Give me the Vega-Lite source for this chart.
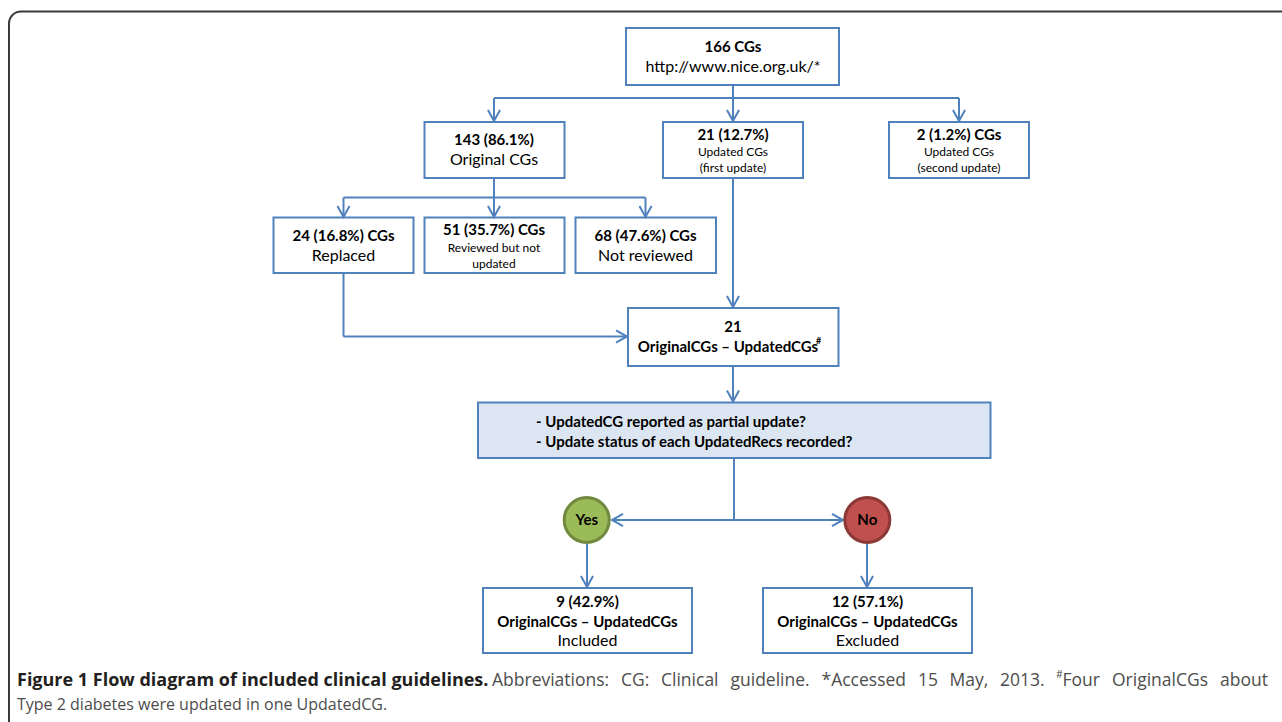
{
  "$schema": "https://vega.github.io/schema/vega-lite/v6.json",
  "width": 1282,
  "height": 722,
  "padding": 0,
  "autosize": {"type": "fit", "contains": "padding"},
  "background": "white",
  "config": {"view": {"stroke": null}},
  "datasets": {
    "frame": [{"x": 9, "x2": 1300, "y": 11.5, "y2": 760}],
    "boxes": [
      {"id": "A", "x": 626, "x2": 839, "y": 28, "y2": 85, "fill": "white"},
      {"id": "B", "x": 424.5, "x2": 564.5, "y": 122, "y2": 178, "fill": "white"},
      {"id": "C", "x": 663, "x2": 803, "y": 122, "y2": 178, "fill": "white"},
      {"id": "D", "x": 889, "x2": 1029, "y": 122, "y2": 178, "fill": "white"},
      {"id": "E", "x": 273.5, "x2": 413.5, "y": 217.5, "y2": 273, "fill": "white"},
      {"id": "F", "x": 424.5, "x2": 564.5, "y": 217.5, "y2": 273, "fill": "white"},
      {"id": "G", "x": 575.5, "x2": 716, "y": 217.5, "y2": 273, "fill": "white"},
      {"id": "H", "x": 628, "x2": 838.5, "y": 308, "y2": 366, "fill": "white"},
      {"id": "I", "x": 478, "x2": 990.5, "y": 402.5, "y2": 458, "fill": "#dce6f2"},
      {"id": "J", "x": 483, "x2": 692, "y": 588, "y2": 653, "fill": "white"},
      {"id": "K", "x": 763, "x2": 972, "y": 588, "y2": 653, "fill": "white"}
    ],
    "segs": [
      {"x": 733, "y": 85, "x2": 733, "y2": 98},
      {"x": 494, "y": 98, "x2": 959, "y2": 98},
      {"x": 494, "y": 98, "x2": 494, "y2": 121},
      {"x": 733, "y": 98, "x2": 733, "y2": 121},
      {"x": 959, "y": 98, "x2": 959, "y2": 121},
      {"x": 494, "y": 178, "x2": 494, "y2": 197.5},
      {"x": 343.5, "y": 197.5, "x2": 645.5, "y2": 197.5},
      {"x": 343.5, "y": 197.5, "x2": 343.5, "y2": 217},
      {"x": 494, "y": 197.5, "x2": 494, "y2": 217},
      {"x": 645.5, "y": 197.5, "x2": 645.5, "y2": 217},
      {"x": 733, "y": 178, "x2": 733, "y2": 307},
      {"x": 343.5, "y": 273, "x2": 343.5, "y2": 336.5},
      {"x": 343.5, "y": 336.5, "x2": 627, "y2": 336.5},
      {"x": 733, "y": 366, "x2": 733, "y2": 401.5},
      {"x": 734, "y": 458, "x2": 734, "y2": 520},
      {"x": 612, "y": 520, "x2": 843, "y2": 520},
      {"x": 587, "y": 544, "x2": 587, "y2": 587},
      {"x": 867, "y": 544, "x2": 867, "y2": 587}
    ],
    "arrows": [
      {"x": 494, "y": 121, "ang": 0},
      {"x": 733, "y": 121, "ang": 0},
      {"x": 959, "y": 121, "ang": 0},
      {"x": 343.5, "y": 217, "ang": 0},
      {"x": 494, "y": 217, "ang": 0},
      {"x": 645.5, "y": 217, "ang": 0},
      {"x": 733, "y": 307, "ang": 0},
      {"x": 627, "y": 336.5, "ang": 270},
      {"x": 733, "y": 401.5, "ang": 0},
      {"x": 612, "y": 520, "ang": 90},
      {"x": 843, "y": 520, "ang": 270},
      {"x": 587, "y": 587, "ang": 0},
      {"x": 867, "y": 587, "ang": 0}
    ],
    "circles": [
      {"x": 586.7, "y": 520, "label": "Yes", "fill": "#9bbb59", "stroke": "#71893f"},
      {"x": 867.3, "y": 520, "label": "No", "fill": "#c0504d", "stroke": "#8c3836"}
    ],
    "texts": [
      {"x": 733, "y": 47, "t": "166 CGs", "w": "b", "s": 15},
      {"x": 733, "y": 67, "t": "http://www.nice.org.uk/*", "w": "n", "s": 16},
      {"x": 494, "y": 140, "t": "143 (86.1%)", "w": "b", "s": 15},
      {"x": 494, "y": 160, "t": "Original CGs", "w": "n", "s": 16},
      {"x": 733, "y": 134.5, "t": "21 (12.7%)", "w": "b", "s": 15},
      {"x": 733, "y": 152, "t": "Updated CGs", "w": "n", "s": 12},
      {"x": 733, "y": 168, "t": "(first update)", "w": "n", "s": 12},
      {"x": 959, "y": 134.5, "t": "2 (1.2%) CGs", "w": "b", "s": 15},
      {"x": 959, "y": 152, "t": "Updated CGs", "w": "n", "s": 12},
      {"x": 959, "y": 168, "t": "(second update)", "w": "n", "s": 12},
      {"x": 343.5, "y": 236, "t": "24 (16.8%) CGs", "w": "b", "s": 15},
      {"x": 343.5, "y": 255.5, "t": "Replaced", "w": "n", "s": 16},
      {"x": 494, "y": 230, "t": "51 (35.7%) CGs", "w": "b", "s": 15},
      {"x": 494, "y": 247.5, "t": "Reviewed but not", "w": "n", "s": 12},
      {"x": 494, "y": 263.5, "t": "updated", "w": "n", "s": 12},
      {"x": 645.5, "y": 236, "t": "68 (47.6%) CGs", "w": "b", "s": 15},
      {"x": 645.5, "y": 255.5, "t": "Not reviewed", "w": "n", "s": 16},
      {"x": 733, "y": 327, "t": "21", "w": "b", "s": 15},
      {"x": 728, "y": 347, "t": "OriginalCGs – UpdatedCGs", "w": "b", "s": 15},
      {"x": 587.5, "y": 602, "t": "9 (42.9%)", "w": "b", "s": 15},
      {"x": 587.5, "y": 621.5, "t": "OriginalCGs – UpdatedCGs", "w": "b", "s": 15},
      {"x": 587.5, "y": 641, "t": "Included", "w": "n", "s": 16},
      {"x": 867.5, "y": 602, "t": "12 (57.1%)", "w": "b", "s": 15},
      {"x": 867.5, "y": 621.5, "t": "OriginalCGs – UpdatedCGs", "w": "b", "s": 15},
      {"x": 867.5, "y": 641, "t": "Excluded", "w": "n", "s": 16}
    ],
    "lefttexts": [
      {"x": 816, "y": 341, "t": "#", "w": "b", "s": 9, "c": "#000000", "f": "box"},
      {"x": 536, "y": 421.5, "t": "- UpdatedCG reported as partial update?", "w": "b", "s": 15, "c": "#000000", "f": "box"},
      {"x": 536, "y": 441.5, "t": "- Update status of each UpdatedRecs recorded?", "w": "b", "s": 15, "c": "#000000", "f": "box"},
      {"x": 17, "y": 681, "t": "Figure 1 Flow diagram of included clinical guidelines.", "w": "b", "s": 18, "c": "#231f20", "f": "cap"},
      {"x": 492, "y": 681, "t": "Abbreviations:", "w": "n", "s": 17.5, "c": "#4d4d4d", "f": "cap"},
      {"x": 621, "y": 681, "t": "CG:", "w": "n", "s": 17.5, "c": "#4d4d4d", "f": "cap"},
      {"x": 661, "y": 681, "t": "Clinical", "w": "n", "s": 17.5, "c": "#4d4d4d", "f": "cap"},
      {"x": 730.5, "y": 681, "t": "guideline.", "w": "n", "s": 17.5, "c": "#4d4d4d", "f": "cap"},
      {"x": 821.5, "y": 681, "t": "*Accessed", "w": "n", "s": 17.5, "c": "#4d4d4d", "f": "cap"},
      {"x": 918, "y": 681, "t": "15", "w": "n", "s": 17.5, "c": "#4d4d4d", "f": "cap"},
      {"x": 949.5, "y": 681, "t": "May,", "w": "n", "s": 17.5, "c": "#4d4d4d", "f": "cap"},
      {"x": 1000, "y": 681, "t": "2013.", "w": "n", "s": 17.5, "c": "#4d4d4d", "f": "cap"},
      {"x": 1056, "y": 675, "t": "#", "w": "n", "s": 10.5, "c": "#4d4d4d", "f": "cap"},
      {"x": 1062.5, "y": 681, "t": "Four", "w": "n", "s": 17.5, "c": "#4d4d4d", "f": "cap"},
      {"x": 1112, "y": 681, "t": "OriginalCGs", "w": "n", "s": 17.5, "c": "#4d4d4d", "f": "cap"},
      {"x": 1220, "y": 681, "t": "about", "w": "n", "s": 17.5, "c": "#4d4d4d", "f": "cap"},
      {"x": 17, "y": 705, "t": "Type 2 diabetes were updated in one UpdatedCG.", "w": "n", "s": 16, "c": "#4d4d4d", "f": "cap"}
    ]
  },
  "encoding": {
    "x": {"field": "x", "type": "quantitative", "scale": {"domain": [0, 1282], "nice": false, "zero": false}, "axis": null},
    "y": {"field": "y", "type": "quantitative", "scale": {"domain": [0, 722], "nice": false, "zero": false, "reverse": true}, "axis": null}
  },
  "layer": [
    {
      "data": {"name": "frame"},
      "mark": {"type": "rect", "fill": null, "stroke": "#3a3a3a", "strokeWidth": 2, "cornerRadius": 12, "clip": true},
      "encoding": {"x2": {"field": "x2"}, "y2": {"field": "y2"}}
    },
    {
      "data": {"name": "segs"},
      "mark": {"type": "rule", "stroke": "#4f81bd", "strokeWidth": 2},
      "encoding": {"x2": {"field": "x2"}, "y2": {"field": "y2"}}
    },
    {
      "data": {"name": "boxes"},
      "mark": {"type": "rect", "stroke": "#4f81bd", "strokeWidth": 2},
      "encoding": {
        "x2": {"field": "x2"}, "y2": {"field": "y2"},
        "fill": {"field": "fill", "type": "nominal", "scale": null}
      }
    },
    {
      "data": {"name": "arrows"},
      "mark": {"type": "point", "shape": "M-0.55,-1L0,0L0.55,-1", "filled": false, "stroke": "#4f81bd", "strokeWidth": 2, "size": 484, "opacity": 1},
      "encoding": {"angle": {"field": "ang", "type": "quantitative", "scale": null}}
    },
    {
      "data": {"name": "circles"},
      "mark": {"type": "point", "shape": "circle", "filled": true, "size": 2025, "strokeWidth": 3, "opacity": 1, "fillOpacity": 1, "strokeOpacity": 1},
      "encoding": {
        "fill": {"field": "fill", "type": "nominal", "scale": null},
        "stroke": {"field": "stroke", "type": "nominal", "scale": null}
      }
    },
    {
      "data": {"name": "circles"},
      "mark": {"type": "text", "font": "Lato", "fontWeight": "bold", "fontSize": 15, "color": "#000000", "align": "center", "baseline": "middle"},
      "encoding": {"text": {"field": "label"}}
    },
    {
      "data": {"name": "texts"},
      "transform": [{"filter": "datum.w == 'b'"}],
      "mark": {"type": "text", "font": "Lato", "fontWeight": "bold", "color": "#000000", "align": "center", "baseline": "middle"},
      "encoding": {"text": {"field": "t"}, "size": {"field": "s", "type": "quantitative", "scale": null}}
    },
    {
      "data": {"name": "texts"},
      "transform": [{"filter": "datum.w == 'n'"}],
      "mark": {"type": "text", "font": "Lato", "fontWeight": "normal", "color": "#000000", "align": "center", "baseline": "middle"},
      "encoding": {"text": {"field": "t"}, "size": {"field": "s", "type": "quantitative", "scale": null}}
    },
    {
      "data": {"name": "lefttexts"},
      "transform": [{"filter": "datum.w == 'b' && datum.f == 'box'"}],
      "mark": {"type": "text", "font": "Lato", "fontWeight": "bold", "align": "left", "baseline": "middle"},
      "encoding": {"text": {"field": "t"}, "size": {"field": "s", "type": "quantitative", "scale": null}, "color": {"field": "c", "type": "nominal", "scale": null}}
    },
    {
      "data": {"name": "lefttexts"},
      "transform": [{"filter": "datum.w == 'b' && datum.f == 'cap'"}],
      "mark": {"type": "text", "font": "Open Sans", "fontWeight": "bold", "align": "left", "baseline": "middle"},
      "encoding": {"text": {"field": "t"}, "size": {"field": "s", "type": "quantitative", "scale": null}, "color": {"field": "c", "type": "nominal", "scale": null}}
    },
    {
      "data": {"name": "lefttexts"},
      "transform": [{"filter": "datum.w == 'n' && datum.f == 'cap'"}],
      "mark": {"type": "text", "font": "Open Sans", "fontWeight": "normal", "align": "left", "baseline": "middle"},
      "encoding": {"text": {"field": "t"}, "size": {"field": "s", "type": "quantitative", "scale": null}, "color": {"field": "c", "type": "nominal", "scale": null}}
    }
  ]
}
